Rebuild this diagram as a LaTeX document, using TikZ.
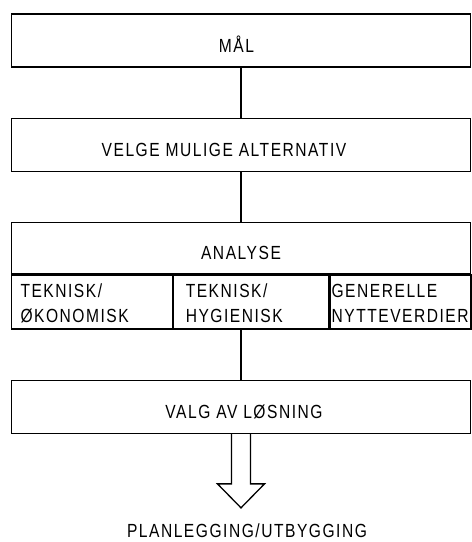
\documentclass[tikz,border=0pt]{standalone}
\usepackage{fontspec}
\setmainfont{Liberation Sans}[LetterSpace=8,FakeStretch=0.82]
\usetikzlibrary{positioning,calc}

\begin{document}
\begin{tikzpicture}[x=1pt, y=-1pt, node distance=50pt, line width=1.3pt,
  every node/.style={font=\fontsize{19}{25}\selectfont},
  stage/.style={draw, minimum width=459pt, minimum height=53pt, inner sep=0pt, text height=23pt, text depth=0pt},
  part/.style={draw, anchor=north west, minimum height=54pt, align=left, inner ysep=0pt}]
\useasboundingbox (0,0) rectangle (472,542);
% main chain
\node[stage] (mal) at (241,40.5) {MÅL\kern9pt};
\node[stage, below=of mal] (velge) {VELGE MULIGE ALTERNATIV\kern34pt};
\node[stage, below=of velge, minimum height=51pt] (analyse) {ANALYSE};
% analysis parts
\node[part, text width=143pt, inner xsep=9pt] (okon) at (analyse.south west) {\rule{0pt}{17pt}TEKNISK/\\ØKONOMISK};
\node[part, text width=131pt, inner xsep=12pt] (hyg) at (okon.north east) {\rule{0pt}{17pt}TEKNISK/\\HYGIENISK};
\node[part, text width=138pt, inner xsep=1.5pt] (nytte) at (hyg.north east) {\rule{0pt}{17pt}GENERELLE\\NYTTEVERDIER};
\coordinate (rowbot) at (analyse.south |- hyg.south);
\node[stage, below=of rowbot] (valg) {\hspace{6pt}VALG AV LØSNING};
% outcome
\coordinate[below=74pt of valg] (tip);
\node[below=12pt of tip, xshift=6pt] (plan) {PLANLEGGING/UTBYGGING};
\draw (mal) -- (velge);
\draw (velge) -- (analyse);
\draw (rowbot) -- (valg);
\draw (valg.south) ++(-9.5,0) -- ++(0,50) -- ++(-14,0) -- (tip) -- ++(23.5,-24) -- ++(-14,0) -- ++(0,-50);
\end{tikzpicture}
\end{document}
